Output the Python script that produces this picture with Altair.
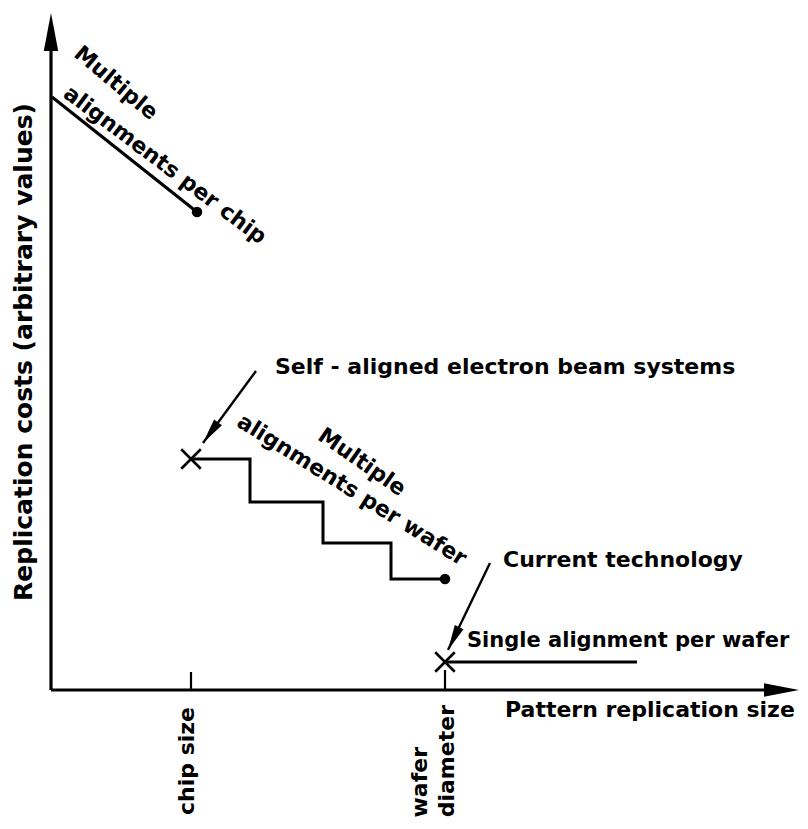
import altair as alt
import pandas as pd

# ---- data (arbitrary units: x = pattern replication size, y = replication cost) ----
chip_size = 140
wafer_diameter = 394
axis_x_end = 748
axis_y_end = 677

# Multiple alignments per chip (straight decline ending in a dot)
chip_line_x = [1, 146]
chip_line_y = [593, 478]

# Multiple alignments per wafer (staircase)
stair_x = [140, 199, 272, 340, 394]
stair_y = [231, 188, 147, 111, 111]

# Single alignment per wafer (current technology)
single_x = [394, 586]
single_y = [28, 28]

# annotation arrows: start -> tip
arrow_names = ["self_aligned", "current"]
arrow_x0 = [205, 439]
arrow_y0 = [319, 127]
arrow_x1 = [152, 397]
arrow_y1 = [247, 40]

# ---- view ----
X_DOM = [-43, 749]
Y_DOM = [-131, 682]
W, H = 792, 813
FONT = "DejaVu Sans"
FS = 22

xs = alt.Scale(domain=X_DOM, nice=False, zero=False)
ys = alt.Scale(domain=Y_DOM, nice=False, zero=False)


def X(f="x"):
    return alt.X(f"{f}:Q", scale=xs, axis=None)


def Y(f="y"):
    return alt.Y(f"{f}:Q", scale=ys, axis=None)


layers = []

# axes lines + ticks + straight segments
seg = pd.DataFrame({
    "x": [0, 0, chip_size, wafer_diameter, chip_line_x[0], single_x[0]] + arrow_x0,
    "y": [0, 0, 0, 0, chip_line_y[0], single_y[0]] + arrow_y0,
    "x2": [axis_x_end - 20, 0, chip_size, wafer_diameter, chip_line_x[1], single_x[1]] + arrow_x1,
    "y2": [0, axis_y_end - 20, 18, 20, chip_line_y[1], single_y[1]] + arrow_y1,
    "w": [3.2, 3.2, 2.2, 2.2, 3.2, 3.0, 2.4, 2.4],
})
layers.append(
    alt.Chart(seg).mark_rule(color="black", strokeCap="butt").encode(
        x=X(), y=Y(), x2="x2:Q", y2="y2:Q",
        strokeWidth=alt.StrokeWidth("w:Q", scale=None),
    )
)

# staircase
stair = pd.DataFrame({"x": stair_x, "y": stair_y})
layers.append(
    alt.Chart(stair).mark_line(color="black", strokeWidth=3, interpolate="step-after",
                               strokeJoin="miter").encode(x=X(), y=Y())
)

# arrowheads (tip at the point)
head_path = "M0,0L0.38,2L-0.38,2Z"
heads = pd.DataFrame({
    "x": [0, axis_x_end] + arrow_x1,
    "y": [axis_y_end, 0] + arrow_y1,
    "ang": [0, 90, 216, 206],
    "s": [1444, 1225, 650, 650],
})
layers.append(
    alt.Chart(heads).mark_point(shape=head_path, filled=True, color="black", opacity=1).encode(
        x=X(), y=Y(),
        angle=alt.Angle("ang:Q", scale=None),
        size=alt.Size("s:Q", scale=None),
    )
)

# end dots
dots = pd.DataFrame({"x": [chip_line_x[1], stair_x[-1]], "y": [chip_line_y[1], stair_y[-1]]})
layers.append(
    alt.Chart(dots).mark_point(shape="circle", filled=True, color="black", size=110, opacity=1)
    .encode(x=X(), y=Y())
)

# cross markers
crosses = pd.DataFrame({"x": [stair_x[0], single_x[0]], "y": [stair_y[0], single_y[0]]})
layers.append(
    alt.Chart(crosses).mark_point(shape="M-1,-1L1,1M1,-1L-1,1", filled=False, color="black",
                                  size=380, strokeWidth=2.6, opacity=1)
    .encode(x=X(), y=Y())
)

# text annotations: (text, x, y, angle, align, baseline, size)
notes = [
    ("Multiple", 65, 607, 40, "center", "middle", FS),
    ("alignments per chip", 114, 525, 37, "center", "middle", FS),
    ("Multiple", 311, 228, 35, "center", "middle", FS),
    ("alignments per wafer", 301, 200, 32, "center", "middle", FS),
    ("Self - aligned electron beam systems", 224, 316, 0, "left", "alphabetic", FS),
    ("Current technology", 452, 123, 0, "left", "alphabetic", FS),
    ("Single alignment per wafer", 416, 43, 0, "left", "alphabetic", 21),
    ("Pattern replication size", 454, -27, 0, "left", "alphabetic", FS),
    ("chip size", 136, -17, 270, "right", "middle", FS),
    ("wafer", 369, -57, 270, "right", "middle", FS),
    ("diameter", 396, -15, 270, "right", "middle", FS),
    ("Replication costs  (arbitrary values)", -27, 338, 270, "center", "middle", 25),
]
for t, x, y, a, al, bl, fs in notes:
    df = pd.DataFrame({"x": [x], "y": [y], "t": [t]})
    layers.append(
        alt.Chart(df).mark_text(font=FONT, fontSize=fs, fontWeight="bold", color="black",
                                angle=a, align=al, baseline=bl)
        .encode(x=X(), y=Y(), text="t:N")
    )

chart = alt.layer(*layers).properties(
    width=W, height=H, autosize=alt.AutoSizeParams(type="none"), padding=0
).configure_view(stroke=None)

chart.save("out.html", embed_options={"renderer": "svg", "actions": False})
